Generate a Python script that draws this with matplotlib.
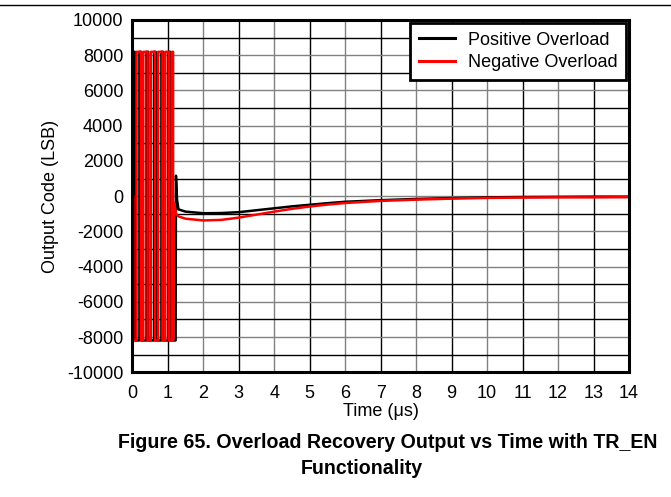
import numpy as np
import matplotlib
matplotlib.use('Agg')
import matplotlib.pyplot as plt
from matplotlib.lines import Line2D

plt.rcParams['font.family'] = ['Liberation Sans', 'DejaVu Sans']
plt.rcParams['axes.unicode_minus'] = False

# Overload oscillation (square wave edges, levels alternate from start level)
full_scale = 8192
black_start = -3260
black_edges = [0.005, 0.02, 0.07, 0.20, 0.25, 0.40, 0.45, 0.61, 0.66, 0.82, 0.87, 1.02, 1.07]
red_start = 0
red_edges = [0.03, 0.12, 0.24, 0.31, 0.43, 0.52, 0.64, 0.73, 0.85, 0.93, 1.04, 1.12]

# Recovery after the overload is released
black_tail_t = [1.22, 1.23, 1.26, 1.30, 1.5, 2.0, 2.5, 3.0, 3.5, 4.0, 4.5, 5.0, 5.5, 6.0,
                7.0, 8.0, 9.0, 10.0, 11.0, 12.0, 13.0, 14.0]
black_tail_v = [-8192, 1160, -200, -750, -880, -970, -960, -910, -800, -690, -580, -490, -400,
                -320, -230, -160, -110, -70, -50, -40, -30, -30]
red_tail_t = [1.15, 1.16, 1.19, 1.23, 1.30, 1.5, 2.0, 2.5, 3.0, 3.5, 4.0, 4.5, 5.0, 5.5, 6.0,
              7.0, 8.0, 9.0, 10.0, 11.0, 12.0, 13.0, 14.0]
red_tail_v = [-8192, -2900, -400, -1000, -1150, -1280, -1380, -1350, -1220, -1050, -880, -720,
              -590, -480, -390, -270, -200, -140, -100, -80, -70, -70, -60]

x_ticks = list(range(0, 15))
y_ticks = list(range(-10000, 10001, 2000))


def square_wave(start, edges, t_end, v_end):
    '''
    Build a step trace from the edge times; levels alternate -FS / +FS
    '''
    t = [0.0]
    v = [start]
    level = -full_scale
    for e in edges:
        t += [e, e]
        v += [v[-1], level]
        level = -level
    t.append(t_end)
    v.append(v[-1])
    return np.array(t), np.array(v)


bt, bv = square_wave(black_start, black_edges, black_tail_t[0], black_tail_v[0])
rt, rv = square_wave(red_start, red_edges, red_tail_t[0], red_tail_v[0])
bt = np.concatenate([bt, black_tail_t])
bv = np.concatenate([bv, black_tail_v])
rt = np.concatenate([rt, red_tail_t])
rv = np.concatenate([rv, red_tail_v])

fig = plt.figure(figsize=(6.71, 4.97), dpi=100)
ax = fig.add_axes([0.1972, 0.2509, 0.7402, 0.7089])

# Grid: alternating dark / grey lines, like the scanned datasheet
for i, x in enumerate(np.arange(1, 14)):
    ax.axvline(x, color='black' if i % 2 == 0 else '#808080', lw=1.0, zorder=1)
for i, y in enumerate(np.arange(-9000, 10000, 1000)):
    ax.axhline(y, color='black' if i % 2 == 0 else '#808080', lw=1.0, zorder=1)

ax.plot(bt, bv, color='black', lw=1.8, zorder=3)
ax.plot(rt, rv, color='#ff0000', lw=1.8, zorder=4)

ax.set_xlim(0, 14)
ax.set_ylim(-10000, 10000)
ax.set_xticks(x_ticks)
ax.set_yticks(y_ticks)
ax.tick_params(length=0, labelsize=13)
ax.tick_params(axis='x', pad=9)
ax.tick_params(axis='y', pad=6.5)
for s in ax.spines.values():
    s.set_linewidth(2.2)
    s.set_zorder(5)

ax.set_xlabel('Time (\u03bcs)', fontsize=13, labelpad=1)
ax.set_ylabel('Output Code (LSB)', fontsize=13, labelpad=6)

handles = [Line2D([], [], color='black', lw=2.2), Line2D([], [], color='#ff0000', lw=2.2)]
leg = ax.legend(handles, ['Positive Overload', 'Negative Overload'], loc='upper right',
                fontsize=13, frameon=True, fancybox=False, borderaxespad=0.15,
                handlelength=2.0, handletextpad=0.7, labelspacing=0.3, borderpad=0.5)
leg.get_frame().set_edgecolor('black')
leg.get_frame().set_linewidth(2.0)
leg.get_frame().set_alpha(1)
leg.set_zorder(6)

fig.text(657 / 671, 1 - 443 / 497, 'Figure 65. Overload Recovery Output vs Time with TR_EN',
         ha='right', va='center', fontsize=14.1, fontweight='bold')
fig.text(361.5 / 671, 1 - 469 / 497, 'Functionality',
         ha='center', va='center', fontsize=14.1, fontweight='bold')

# Rule across the top of the page
fig.add_artist(Line2D([0, 1], [1 - 4.5 / 497, 1 - 4.5 / 497], color='black', lw=1.0))

fig.savefig('out.png', dpi=100)
